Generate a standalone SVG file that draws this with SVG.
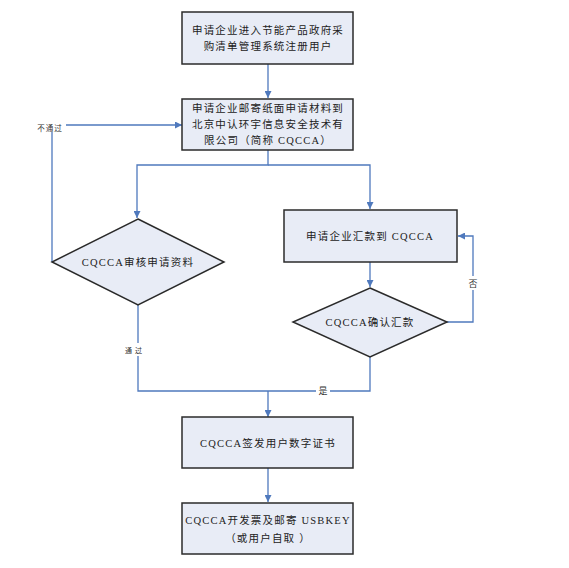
<svg xmlns="http://www.w3.org/2000/svg" width="569" height="568" viewBox="0 0 569 568">
<style>
.n{fill:#e8ecf6;stroke:#2b2b2b;stroke-width:1.5}
.t{font-family:"Liberation Serif","Noto Sans CJK SC",serif;font-size:10.5px;fill:#222;text-anchor:middle;letter-spacing:1.2px}
.c{fill:none;stroke:#4f79bd;stroke-width:1.3}
.l{font-family:"Noto Sans CJK SC",sans-serif;font-size:8px;fill:#333;text-anchor:middle}
</style>
<defs>
<marker id="a" viewBox="0 0 10 10" refX="10" refY="5" markerWidth="7" markerHeight="7" orient="auto" markerUnits="userSpaceOnUse">
<path d="M0,0 L10,5 L0,10 z" fill="#4f79bd"/>
</marker>
</defs>
<rect width="569" height="568" fill="#fff"/>
<g id="connectors">
<path class="c" d="M268,64 V98" marker-end="url(#a)"/>
<path class="c" d="M52,262 V125 H182" marker-end="url(#a)"/>
<path class="c" d="M268,150 V165 H137 V218" marker-end="url(#a)"/>
<path class="c" d="M268,165 H370 V209" marker-end="url(#a)"/>
<path class="c" d="M370,262 V287" marker-end="url(#a)"/>
<path class="c" d="M447,322 H473 V236 H458" marker-end="url(#a)"/>
<path class="c" d="M138,305 V391 H370 V357"/>
<path class="c" d="M268,391 V417" marker-end="url(#a)"/>
<path class="c" d="M268,468 V502" marker-end="url(#a)"/>
<rect x="34" y="120" width="32" height="12" fill="#fff"/>
<text class="l" x="50" y="131" style="font-size:7.5px;letter-spacing:1px">不通过</text>
<rect x="124" y="343" width="22" height="13" fill="#fff"/>
<text class="l" x="135" y="353" style="font-size:7px;letter-spacing:3px">通过</text>
<rect x="316" y="384" width="14" height="13" fill="#fff"/>
<text class="l" x="323" y="394" style="font-size:9px">是</text>
<rect x="467" y="276" width="13" height="14" fill="#fff"/>
<text class="l" x="473" y="287" style="font-size:9px">否</text>
</g>
<g id="n1">
<rect class="n" x="182" y="12" width="171" height="52"/>
<text class="t" x="268" y="34">申请企业进入节能产品政府采</text>
<text class="t" x="268" y="50">购清单管理系统注册用户</text>
</g>
<g id="n2">
<rect class="n" x="182" y="99" width="171" height="51"/>
<text class="t" x="268" y="112">申请企业邮寄纸面申请材料到</text>
<text class="t" x="268" y="128">北京中认环宇信息安全技术有</text>
<text class="t" x="268" y="144">限公司（简称 CQCCA）</text>
</g>
<g id="n3">
<polygon class="n" points="138,219 224,262 138,305 52,262"/>
<text class="t" x="138" y="266">CQCCA审核申请资料</text>
</g>
<g id="n4">
<rect class="n" x="284" y="210" width="173" height="52"/>
<text class="t" x="370" y="240">申请企业汇款到 CQCCA</text>
</g>
<g id="n5">
<polygon class="n" points="370,288 447,322 370,357 293,322"/>
<text class="t" x="370" y="326">CQCCA确认汇款</text>
</g>
<g id="n6">
<rect class="n" x="182" y="417" width="171" height="51"/>
<text class="t" x="268" y="447">CQCCA签发用户数字证书</text>
</g>
<g id="n7">
<rect class="n" x="182" y="503" width="171" height="51"/>
<text class="t" x="268" y="524">CQCCA开发票及邮寄 USBKEY</text>
<text class="t" x="268" y="542">（或用户自取 ）</text>
</g>
</svg>
